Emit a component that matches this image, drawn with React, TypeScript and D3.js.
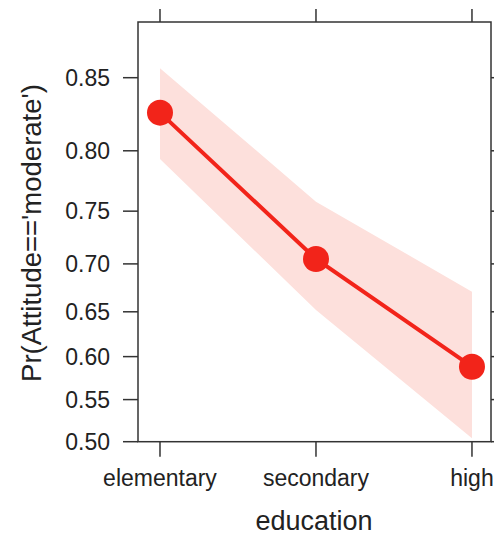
import React from "react";
import * as d3 from "d3";

const categories = ["elementary", "secondary", "high"];
const fitValues = [0.8275, 0.7049, 0.5884];
const lowerValues = [0.7937, 0.652, 0.504];
const upperValues = [0.8557, 0.7584, 0.6715];
const yTicks = [0.5, 0.55, 0.6, 0.65, 0.7, 0.75, 0.8, 0.85];

const W = 494;
const H = 537;
const left = 138;
const right = 491;
const top = 22;
const bottom = 441.7;

const logit = (p: number) => Math.log(p / (1 - p));

export default function App() {
  const x = d3.scaleLinear().domain([-0.141, 2.122]).range([left, right]);
  const yl = d3.scaleLinear().domain([0, 2.0]).range([bottom, top]);
  const y = (p: number) => yl(logit(p));

  const idx = categories.map((_, i) => i);
  const band = d3
    .area<number>()
    .x((i) => x(i))
    .y0((i) => y(lowerValues[i]))
    .y1((i) => y(upperValues[i]));
  const line = d3
    .line<number>()
    .x((i) => x(i))
    .y((i) => y(fitValues[i]));

  const axisColor = "#333";
  const textColor = "#222";
  const font = "'Liberation Sans', Arial, sans-serif";
  const red = "#f2241a";

  return (
    <svg
      width={W}
      height={H}
      style={{ position: "absolute", left: 0, top: 0, background: "#fff" }}
      fontFamily={font}
    >
      <path d={band(idx) || ""} fill="#fde0dc" />
      <path d={line(idx) || ""} fill="none" stroke={red} strokeWidth={4} />
      {idx.map((i) => (
        <circle key={i} cx={x(i)} cy={y(fitValues[i])} r={13} fill={red} />
      ))}
      <rect
        x={left}
        y={top}
        width={right - left}
        height={bottom - top}
        fill="none"
        stroke={axisColor}
        strokeWidth={1.5}
      />
      {yTicks.map((t) => (
        <g key={t}>
          <line x1={left - 15} x2={left} y1={y(t)} y2={y(t)} stroke={axisColor} strokeWidth={1.5} />
          <line x1={right} x2={right + 15} y1={y(t)} y2={y(t)} stroke={axisColor} strokeWidth={1.5} />
          <text
            x={110}
            y={y(t)}
            dy="0.36em"
            textAnchor="end"
            style={{ fontSize: "23px" }}
            fill={textColor}
          >
            {t.toFixed(2)}
          </text>
        </g>
      ))}
      {categories.map((c, i) => (
        <g key={c}>
          <line x1={x(i)} x2={x(i)} y1={bottom} y2={bottom + 15} stroke={axisColor} strokeWidth={1.5} />
          <line x1={x(i)} x2={x(i)} y1={top - 13} y2={top} stroke={axisColor} strokeWidth={1.5} />
          <text x={x(i)} y={486} textAnchor="middle" style={{ fontSize: "23px" }} fill={textColor}>
            {c}
          </text>
        </g>
      ))}
      <text x={314} y={530} textAnchor="middle" style={{ fontSize: "27px" }} fill={textColor}>
        education
      </text>
      <text
        transform={`translate(41, 233) rotate(-90)`}
        textAnchor="middle"
        style={{ fontSize: "27.5px" }}
        fill={textColor}
      >
        Pr(Attitude=='moderate')
      </text>
    </svg>
  );
}
